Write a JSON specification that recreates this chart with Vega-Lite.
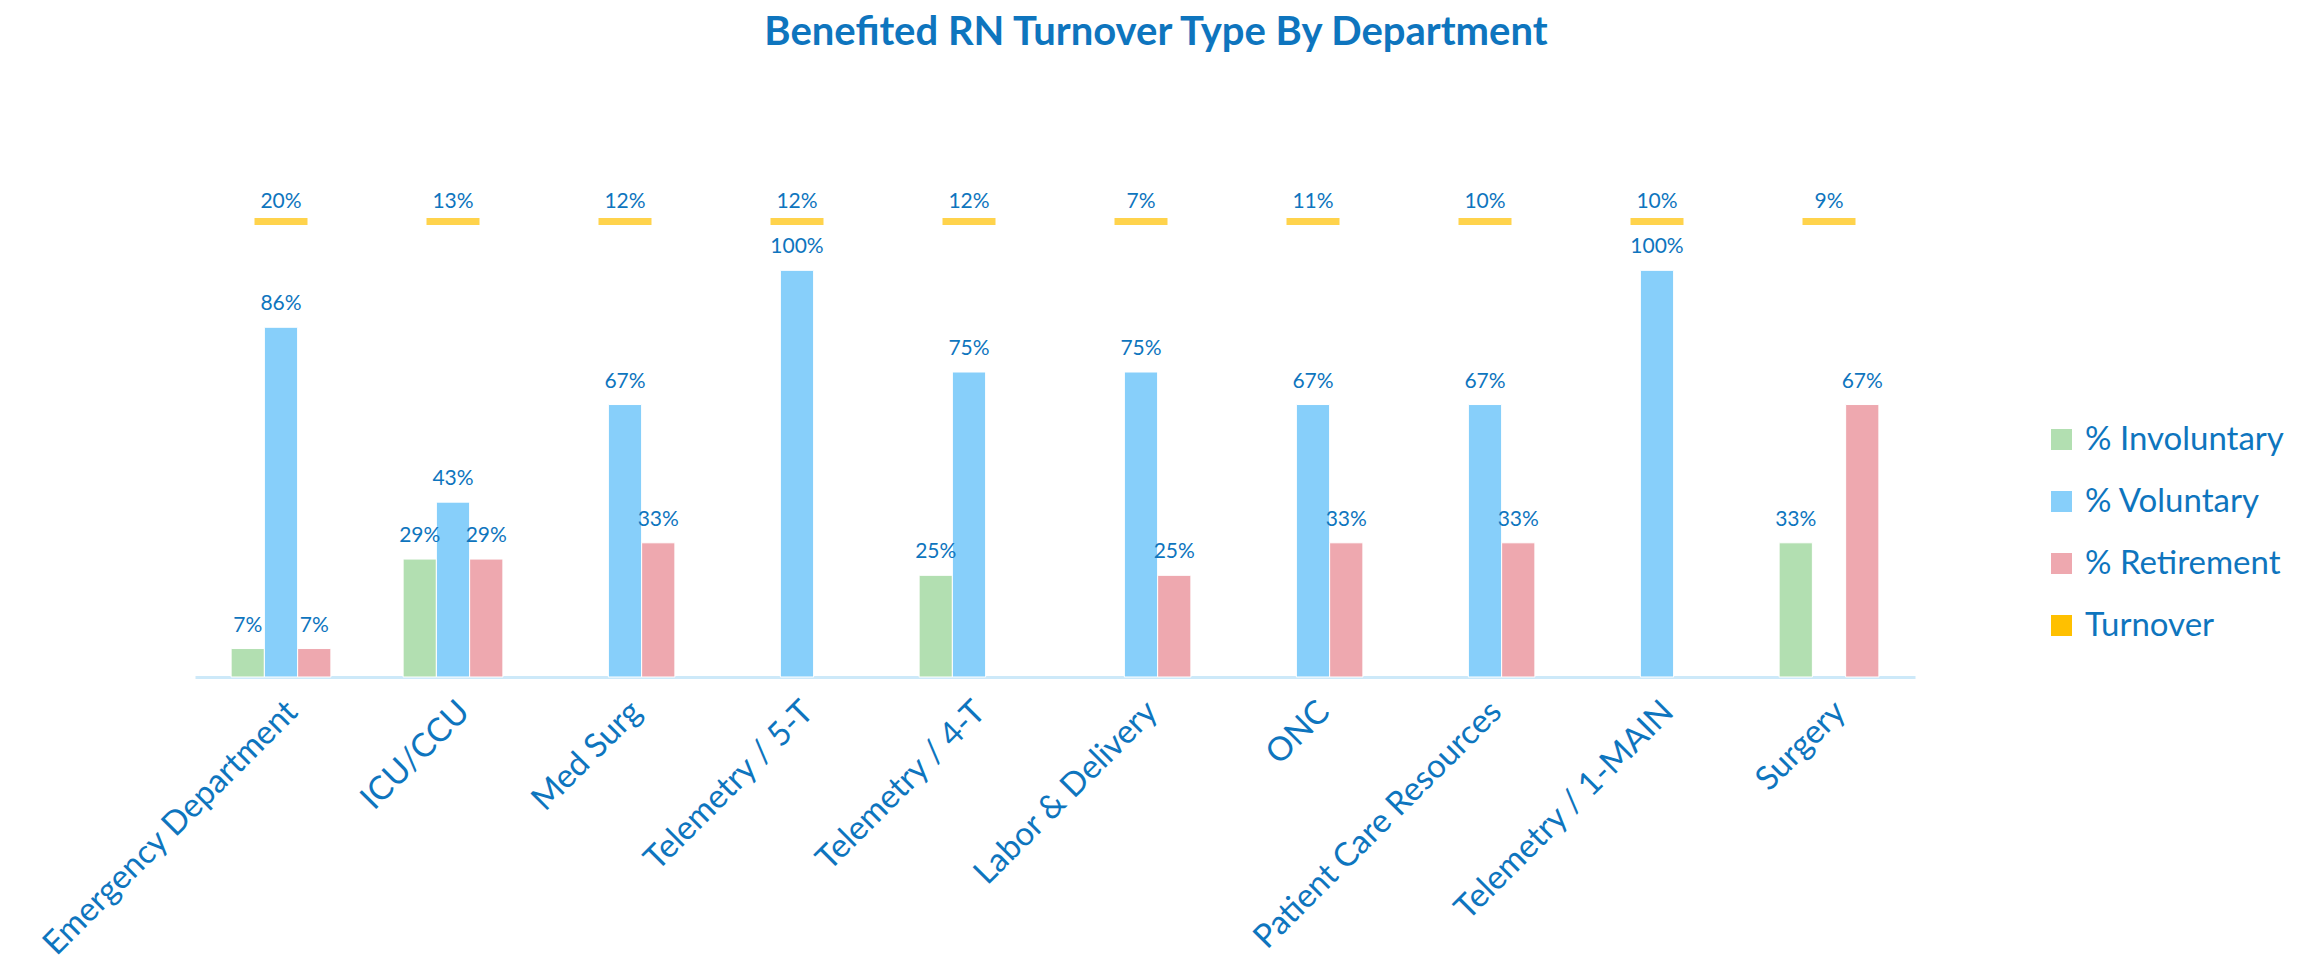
{
  "$schema": "https://vega.github.io/schema/vega-lite/v6.json",
  "autosize": "none",
  "width": 1720,
  "height": 488,
  "padding": {"left": 195, "top": 189, "right": 398, "bottom": 303},
  "background": "white",
  "title": {
    "text": "Benefited RN Turnover Type By Department",
    "font": "Lato",
    "fontSize": 40,
    "fontWeight": "bold",
    "color": "#0E75BE",
    "anchor": "middle",
    "dx": 101,
    "offset": 136
  },
  "config": {"view": {"stroke": null}, "font": "Lato"},
  "datasets": {
    "bars": [
      {"dept": "Emergency Department", "type": "% Involuntary", "value": 0.07},
      {"dept": "Emergency Department", "type": "% Voluntary", "value": 0.86},
      {"dept": "Emergency Department", "type": "% Retirement", "value": 0.07},
      {"dept": "ICU/CCU", "type": "% Involuntary", "value": 0.29},
      {"dept": "ICU/CCU", "type": "% Voluntary", "value": 0.43},
      {"dept": "ICU/CCU", "type": "% Retirement", "value": 0.29},
      {"dept": "Med Surg", "type": "% Voluntary", "value": 0.67},
      {"dept": "Med Surg", "type": "% Retirement", "value": 0.33},
      {"dept": "Telemetry / 5-T", "type": "% Voluntary", "value": 1.0},
      {"dept": "Telemetry / 4-T", "type": "% Involuntary", "value": 0.25},
      {"dept": "Telemetry / 4-T", "type": "% Voluntary", "value": 0.75},
      {"dept": "Labor & Delivery", "type": "% Voluntary", "value": 0.75},
      {"dept": "Labor & Delivery", "type": "% Retirement", "value": 0.25},
      {"dept": "ONC", "type": "% Voluntary", "value": 0.67},
      {"dept": "ONC", "type": "% Retirement", "value": 0.33},
      {"dept": "Patient Care Resources", "type": "% Voluntary", "value": 0.67},
      {"dept": "Patient Care Resources", "type": "% Retirement", "value": 0.33},
      {"dept": "Telemetry / 1-MAIN", "type": "% Voluntary", "value": 1.0},
      {"dept": "Surgery", "type": "% Involuntary", "value": 0.33},
      {"dept": "Surgery", "type": "% Retirement", "value": 0.67}
    ],
    "turnover": [
      {"dept": "Emergency Department", "turnover": 0.20},
      {"dept": "ICU/CCU", "turnover": 0.13},
      {"dept": "Med Surg", "turnover": 0.12},
      {"dept": "Telemetry / 5-T", "turnover": 0.12},
      {"dept": "Telemetry / 4-T", "turnover": 0.12},
      {"dept": "Labor & Delivery", "turnover": 0.07},
      {"dept": "ONC", "turnover": 0.11},
      {"dept": "Patient Care Resources", "turnover": 0.10},
      {"dept": "Telemetry / 1-MAIN", "turnover": 0.10},
      {"dept": "Surgery", "turnover": 0.09}
    ]
  },
  "encoding": {
    "x": {
      "field": "dept",
      "type": "nominal",
      "sort": ["Emergency Department", "ICU/CCU", "Med Surg", "Telemetry / 5-T", "Telemetry / 4-T", "Labor & Delivery", "ONC", "Patient Care Resources", "Telemetry / 1-MAIN", "Surgery"],
      "scale": {"paddingInner": 0.42, "paddingOuter": 0.21},
      "axis": {
        "title": null,
        "labelAngle": -45,
        "labelFont": "Lato",
        "labelFontSize": 33,
        "labelColor": "#0E75BE",
        "labelLimit": 0,
        "labelPadding": 18,
        "domainColor": "#CDE9F9",
        "domainWidth": 3,
        "ticks": false
      }
    }
  },
  "layer": [
    {
      "data": {"name": "bars"},
      "mark": {"type": "bar", "stroke": "#FFFFFF", "strokeWidth": 1},
      "encoding": {
        "xOffset": {"field": "type", "type": "nominal", "scale": {"domain": ["% Involuntary", "% Voluntary", "% Retirement"], "paddingInner": 0, "paddingOuter": 0}},
        "y": {"field": "value", "type": "quantitative", "scale": {"domain": [0, 1.2]}, "axis": null},
        "color": {
          "field": "type",
          "type": "nominal",
          "scale": {"domain": ["% Involuntary", "% Voluntary", "% Retirement", "Turnover"], "range": ["#B2DFB1", "#87CFFA", "#EEA8AF", "#FFC000"]},
          "legend": {
            "title": null,
            "orient": "none",
            "legendX": 1850,
            "legendY": 234,
            "symbolType": "square",
            "symbolSize": 441,
            "symbolStrokeWidth": 0,
            "labelFont": "Lato",
            "labelFontSize": 33,
            "labelLimit": 0,
            "labelColor": "#0E75BE",
            "labelOffset": 7,
            "rowPadding": 28
          }
        }
      }
    },
    {
      "data": {"name": "bars"},
      "mark": {"type": "text", "baseline": "alphabetic", "dy": -17, "fontSize": 21, "font": "Lato", "color": "#0E75BE"},
      "encoding": {
        "xOffset": {"field": "type", "type": "nominal"},
        "y": {"field": "value", "type": "quantitative"},
        "text": {"field": "value", "format": ".0%"}
      }
    },
    {
      "data": {"name": "turnover"},
      "mark": {"type": "tick", "thickness": 7, "size": 53},
      "encoding": {
        "y": {"datum": 1.12, "type": "quantitative"},
        "color": {"datum": "Turnover"}
      }
    },
    {
      "data": {"name": "turnover"},
      "mark": {"type": "text", "baseline": "alphabetic", "dy": -14, "fontSize": 21, "font": "Lato", "color": "#0E75BE"},
      "encoding": {
        "y": {"datum": 1.12, "type": "quantitative"},
        "text": {"field": "turnover", "format": ".0%"}
      }
    }
  ]
}
